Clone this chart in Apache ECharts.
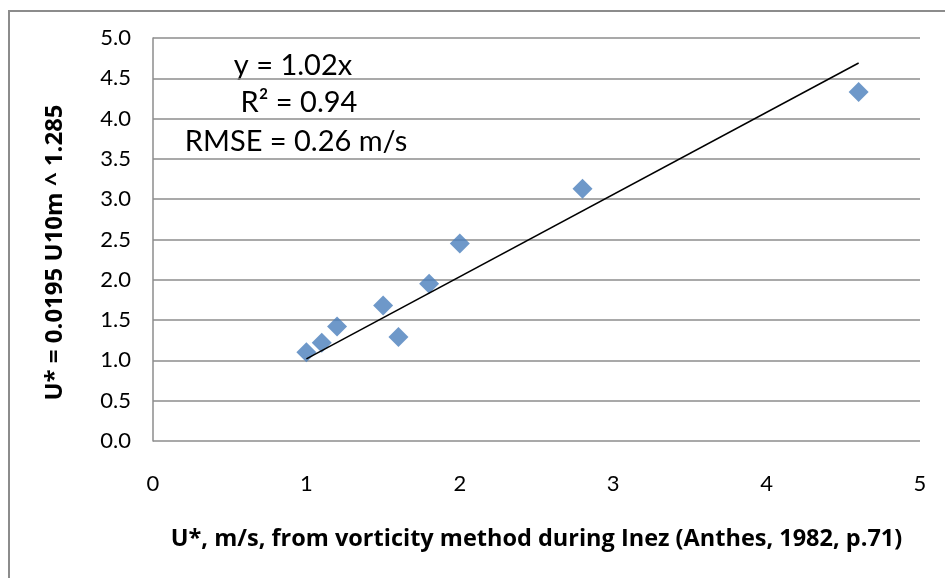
<!DOCTYPE html>
<html>
<head>
<meta charset="utf-8">
<script src="https://cdn.jsdelivr.net/npm/echarts@6/dist/echarts.min.js"></script>
<style>
  html, body { margin: 0; padding: 0; background: #fff; }
  #main { width: 945px; height: 578px; }
</style>
</head>
<body>
<div id="main"></div>
<script>
// observed points: vorticity method U* vs bulk formula U*
var xVals = [1.0, 1.1, 1.2, 1.5, 1.6, 1.8, 2.0, 2.8, 4.6];
var yVals = [1.10, 1.22, 1.42, 1.68, 1.29, 1.95, 2.45, 3.13, 4.33];
// linear trend line y = 1.02x
var trendX = [1.0, 4.6];
var trendY = [1.02, 4.69];
var yTicks = ['0.0', '0.5', '1.0', '1.5', '2.0', '2.5', '3.0', '3.5', '4.0', '4.5', '5.0'];
var notes = ['y = 1.02x', 'R\u00b2 = 0.94', 'RMSE = 0.26 m/s'];

var font = 'Lato, "Open Sans", sans-serif';
var titleFont = '"Open Sans", Lato, sans-serif';

var chart = echarts.init(document.getElementById('main'));
chart.setOption({
  backgroundColor: '#fff',
  animation: false,
  grid: { left: 153, right: 25, top: 38, bottom: 137 },
  xAxis: {
    type: 'value', min: 0, max: 5, interval: 1,
    name: 'U*, m/s, from vorticity method during Inez (Anthes, 1982, p.71)',
    nameLocation: 'middle', nameGap: 86,
    nameTextStyle: { fontFamily: titleFont, fontSize: 23.5, fontWeight: 'bold', color: '#000' },
    axisLine: { show: false },
    axisTick: { show: false },
    splitLine: { show: false },
    axisLabel: { margin: 32, fontFamily: font, fontSize: 22, color: '#000' }
  },
  yAxis: {
    type: 'value', min: 0, max: 5, interval: 0.5,
    name: 'U* = 0.0195 U10m ^ 1.285',
    nameLocation: 'middle', nameGap: 86,
    nameTextStyle: { fontFamily: titleFont, fontSize: 24, fontWeight: 'bold', color: '#000', padding: [0, 26, 0, 0] },
    axisLine: { show: true, lineStyle: { color: '#8c8c8c', width: 1.5 } },
    axisTick: { show: false },
    splitLine: { lineStyle: { color: '#8c8c8c', width: 1.5 } },
    axisLabel: {
      margin: 22, fontFamily: font, fontSize: 22, color: '#000',
      formatter: function (v) { return yTicks[Math.round(v * 2)]; }
    }
  },
  graphic: [
    { type: 'rect', shape: { x: 9, y: 11, width: 960, height: 600 },
      style: { fill: 'none', stroke: '#8c8c8c', lineWidth: 2 }, silent: true, z: -1 },
    { type: 'text', x: 293, y: 66, style: { text: notes[0], font: '29px ' + font, fill: '#000', textAlign: 'center', textVerticalAlign: 'middle' } },
    { type: 'text', x: 299, y: 103, style: { text: notes[1], font: '29px ' + font, fill: '#000', textAlign: 'center', textVerticalAlign: 'middle' } },
    { type: 'text', x: 296, y: 142, style: { text: notes[2], font: '29px ' + font, fill: '#000', textAlign: 'center', textVerticalAlign: 'middle' } }
  ],
  series: [
    {
      type: 'line',
      data: trendX.map(function (x, i) { return [x, trendY[i]]; }),
      symbol: 'none',
      lineStyle: { color: '#000', width: 1.5 },
      z: 3
    },
    {
      type: 'scatter',
      data: xVals.map(function (x, i) { return [x, yVals[i]]; }),
      symbol: 'diamond',
      symbolSize: [20, 20],
      itemStyle: { color: '#4A7EBB' },
      z: 2
    }
  ]
});
</script>
</body>
</html>
